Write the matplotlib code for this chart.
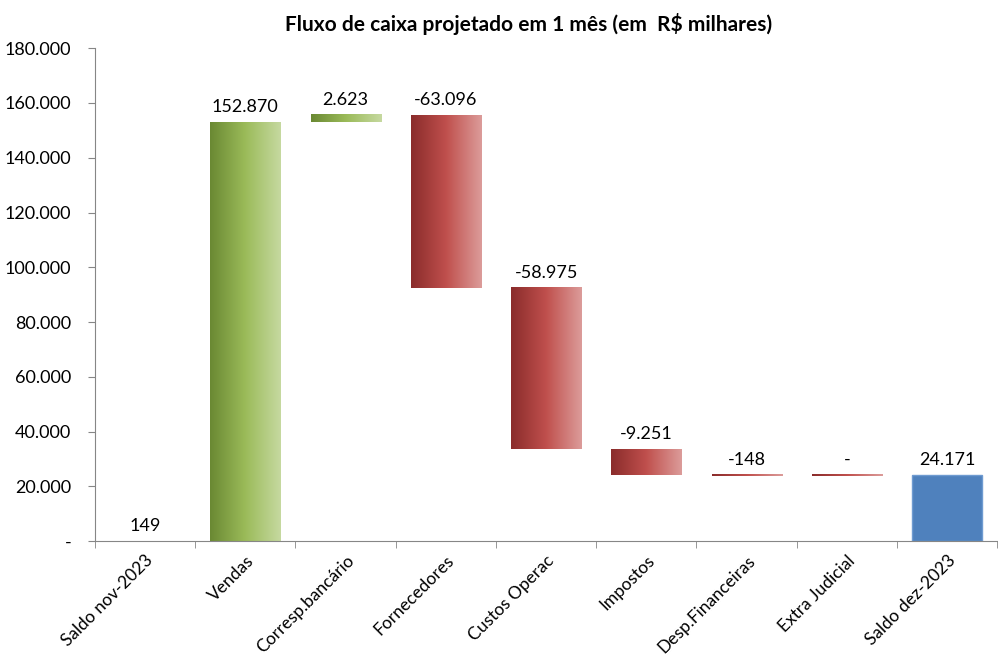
import matplotlib.pyplot as plt
import numpy as np
from matplotlib.colors import LinearSegmentedColormap
from matplotlib.ticker import FuncFormatter

plt.rcParams['font.family'] = ['Lato', 'DejaVu Sans']

categories = ['Saldo nov-2023', 'Vendas', 'Corresp.bancário', 'Fornecedores',
              'Custos Operac', 'Impostos', 'Desp.Financeiras', 'Extra Judicial',
              'Saldo dez-2023']
values = [149, 152870, 2623, -63096, -58975, -9251, -148, 0, 24171]
labels = ['149', '152.870', '2.623', '-63.096', '-58.975', '-9.251', '-148', '-', '24.171']

green = LinearSegmentedColormap.from_list('g', ['#6a8933', '#9bbb59', '#c6d9a0'])
red = LinearSegmentedColormap.from_list('r', ['#8a2c2b', '#c0504d', '#dc9c9a'])

fig = plt.figure(figsize=(9.98, 6.6), dpi=100)
ax = fig.add_axes([0.0952, 0.180, 0.904, 0.747])

w = 0.7
grad = np.linspace(0, 1, 256).reshape(1, -1)
running = 0
for i, v in enumerate(values):
    if i == 0 or i == len(values) - 1:
        bottom, top = 0, v
        if i == len(values) - 1:
            ax.bar(i, v, width=w, color='#4f81bd', edgecolor='#6f9bd1', linewidth=1)
        running = v
    else:
        bottom, top = sorted([running, running + v])
        cmap = green if v > 0 else red
        if top - bottom < 600:
            # tiny movements still show as a thin line
            ax.imshow(grad, cmap=cmap, aspect='auto', zorder=2,
                      extent=[i - w / 2, i + w / 2, running - 350, running + 350])
        else:
            ax.imshow(grad, cmap=cmap, aspect='auto', zorder=2,
                      extent=[i - w / 2, i + w / 2, bottom, top])
        running += v
    lab_y = max(bottom, top) if i != 0 else v
    ax.text(i, lab_y + 2500, labels[i], ha='center', va='bottom', fontsize=13, color='black')

ax.set_xlim(-0.5, len(categories) - 0.5)
ax.set_ylim(0, 180000)

ax.set_yticks(np.arange(0, 180001, 20000))
ax.yaxis.set_major_formatter(FuncFormatter(
    lambda y, _: '-' if y == 0 else f'{int(y):,}'.replace(',', '.')))
ax.tick_params(axis='y', labelsize=13, length=5, color='#868686', pad=12)

ax.set_xticks(range(len(categories)))
ax.set_xticklabels(categories, rotation=45, ha='right', rotation_mode='anchor', fontsize=12.5)
ax.tick_params(axis='x', which='major', length=0, pad=8)
ax.set_xticks(np.arange(-0.5, len(categories), 1), minor=True)
ax.tick_params(axis='x', which='minor', length=5, color='#868686')

for s in ['top', 'right']:
    ax.spines[s].set_visible(False)
for s in ['left', 'bottom']:
    ax.spines[s].set_color('#868686')

fig.suptitle('Fluxo de caixa projetado em 1 mês (em  R$ milhares)', x=0.53, y=0.98,
             fontsize=15, fontweight='bold')

fig.savefig('out.png', dpi=100)
